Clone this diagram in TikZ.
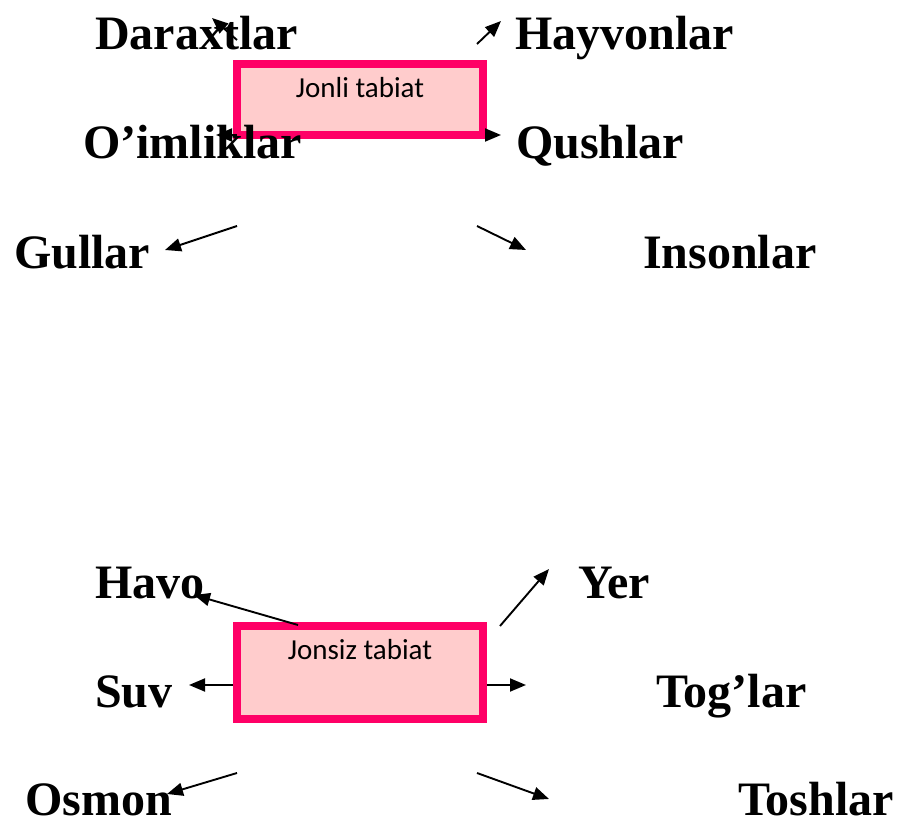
\documentclass[tikz,border=0pt]{standalone}
\usepackage{fontspec}
\setmainfont{Liberation Serif}
\newfontfamily\calfont{Carlito}
\usetikzlibrary{arrows.meta}
\definecolor{boxfill}{HTML}{FFCCCC}
\definecolor{boxline}{HTML}{FF0066}
\begin{document}
\begin{tikzpicture}[x=1pt,y=-1pt,
  lbl/.style={anchor=base west,inner sep=0pt,font=\fontsize{48}{56}\selectfont\bfseries},
  boxtxt/.style={anchor=base,inner sep=0pt,font=\calfont\fontsize{29}{34}\selectfont},
  catbox/.style={draw=boxline,fill=boxfill,line width=8pt,minimum width=246pt,minimum height=71pt,inner sep=0pt},
  arr/.style={line width=1.9pt,-{Triangle[length=16pt,width=13pt]}}]
\useasboundingbox (0,0) rectangle (903,821);
\fill[white] (0,0) rectangle (903,821);
% top box
\node[catbox,minimum height=71pt] (box1) at (360,99.5) {};
\node[boxtxt] (t1) at (360,98) {Jonli tabiat};
\node[lbl] (daraxtlar) at (95,50) {Daraxtlar};
\node[lbl] (hayvonlar) at (515,50) {Hayvonlar};
\node[lbl] (oimliklar) at (83,159) {O’imliklar};
\node[lbl] (qushlar) at (516,159) {Qushlar};
\node[lbl] (gullar) at (14,269) {Gullar};
\node[lbl] (insonlar) at (643,269) {Insonlar};
% bottom box
\node[catbox,minimum height=93pt] (box2) at (360,672.5) {};
\node[boxtxt] (t2) at (360,659) {Jonsiz tabiat};
\node[lbl] (havo) at (95,598) {Havo};
\node[lbl] (yer) at (578,598) {Yer};
\node[lbl] (suv) at (95,707) {Suv};
\node[lbl] (toglar) at (656,707) {Tog’lar};
\node[lbl] (osmon) at (25,815) {Osmon};
\node[lbl] (toshlar) at (738,815) {Toshlar};
% arrow end points
\coordinate (a1s) at (237,40);  \coordinate (a1e) at (212,18);
\coordinate (a2s) at (477,44);  \coordinate (a2e) at (501,21);
\coordinate (a3s) at (237,135); \coordinate (a3e) at (216,135);
\coordinate (a4s) at (485,135); \coordinate (a4e) at (501,135);
\coordinate (a5s) at (237,226); \coordinate (a5e) at (165,250);
\coordinate (a6s) at (477,226); \coordinate (a6e) at (526,250);
\coordinate (b1s) at (298,625); \coordinate (b1e) at (194,595);
\coordinate (b2s) at (500,626); \coordinate (b2e) at (549,569);
\coordinate (b3s) at (233,685); \coordinate (b3e) at (189,685);
\coordinate (b4s) at (487,685); \coordinate (b4e) at (526,685);
\coordinate (b5s) at (237,773); \coordinate (b5e) at (167,794);
\coordinate (b6s) at (477,773); \coordinate (b6e) at (549,799);
\foreach \p in {a1,a2,a3,a4,a5,a6,b1,b2,b3,b4,b5,b6}
  \draw[arr] (\p s) -- (\p e);
\end{tikzpicture}
\end{document}
